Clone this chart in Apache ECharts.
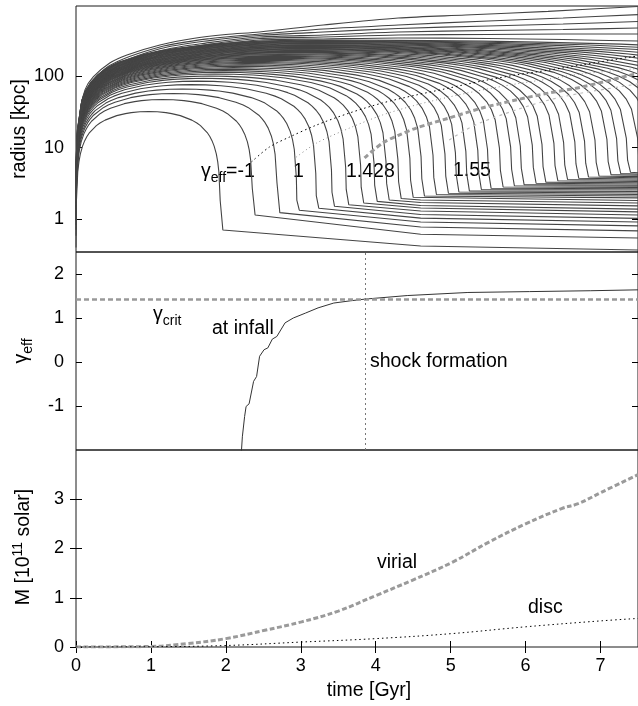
<!DOCTYPE html>
<html>
<head>
<meta charset="utf-8">
<script src="https://cdn.jsdelivr.net/npm/echarts@6/dist/echarts.min.js"></script>
<style>
  html, body { margin: 0; padding: 0; background: #fff; }
  #chart { width: 638px; height: 706px; }
</style>
</head>
<body>
<div id="chart"></div>
<script>
"use strict";

//
// data
//

const T_MAX = 7.5;
const MID_TIME = 4.6;
const GAMMA_CRIT = 1.428;
const SHOCK_TIME = 3.86;

const xTicks = [0, 1, 2, 3, 4, 5, 6, 7];
const radiusTicks = [1, 10, 100];
const gammaTicks = [-1, 0, 1, 2];
const massTicks = [0, 1, 2, 3];

// shape of the innermost shell, as fraction of turnaround time / radius
const riseFrac = [0.0006, 0.002, 0.006, 0.024, 0.04, 0.06, 0.09, 0.12, 0.15, 0.18, 0.28, 0.33, 0.4, 0.56, 0.68, 0.76, 0.88, 1.0];
const riseRadius = [0.0126, 0.0281, 0.0573, 0.143, 0.198, 0.256, 0.329, 0.392, 0.4475, 0.498, 0.635, 0.69, 0.758, 0.876, 0.935, 0.965, 0.991, 1.0];
// after turnaround, as fraction of the time between turnaround and collapse
const fallFrac = [0.12, 0.24, 0.32, 0.44, 0.6, 0.67, 0.72, 0.82, 0.85, 0.88, 0.91, 0.94, 0.96, 0.976, 0.994, 0.998, 1.0];
const fallRadius = [0.991, 0.965, 0.935, 0.876, 0.758, 0.69, 0.635, 0.498, 0.4475, 0.392, 0.329, 0.256, 0.198, 0.143, 0.0573, 0.0281, 0];

// per shell [Gyr], [kpc]
const shellCollapseTime = [1.93, 2.36, 2.69, 2.95, 3.21, 3.42, 3.61, 3.81, 3.99, 4.15, 4.31, 4.47, 4.62, 4.78, 4.94, 5.08,
  5.22, 5.38, 5.51, 5.67, 5.82, 5.95, 6.11, 6.24, 6.40, 6.53, 6.68, 6.81, 6.95, 7.11, 7.24, 7.37,
  7.52, 7.67, 7.82, 7.98, 8.15, 8.35, 8.55, 8.8, 9.1, 9.45, 9.9, 10.5, 11.3, 12.4];
const shellTurnRadius = [32, 47, 57, 66, 76, 85, 93, 100, 107, 113, 119, 125, 131, 137, 143, 149,
  155, 160, 166, 172, 178, 183, 189, 194, 200, 205, 211, 216, 222, 228, 233, 238,
  243, 248, 253, 258, 263, 268, 274, 280, 287, 294, 300, 306, 312, 318];
const shellTurnTime = [0.97, 1.15, 1.3, 1.42, 1.53, 1.62, 1.7, 1.78, 1.85, 1.92, 1.98, 2.04, 2.1, 2.16, 2.22, 2.28,
  2.33, 2.38, 2.43, 2.48, 2.53, 2.58, 2.63, 2.68, 2.73, 2.78, 2.83, 2.88, 2.93, 2.98, 3.0, 3.02,
  3.03, 3.04, 3.05, 3.06, 3.07, 3.08, 3.1, 3.12, 3.14, 3.16, 3.18, 3.2, 3.22, 3.24];
// collapsed shells only
const shellKneeRadius = [0.71, 1.15, 1.24, 1.34, 1.43, 1.52, 1.60, 1.69, 1.78, 1.86, 1.95, 2.03, 2.12, 2.22, 2.31, 2.41,
  2.50, 2.61, 2.71, 2.83, 2.95, 3.05, 3.19, 3.31, 3.46, 3.60, 3.74, 3.89, 4.03, 4.21, 4.36, 4.54];
const shellMidRadius = [0.425, 0.62, 0.78, 0.92, 1.04, 1.17, 1.31, 1.44, 1.56, 1.72, 1.86];
const shellEndRadius = [0.373, 0.55, 0.69, 0.81, 0.92, 1.03, 1.15, 1.27, 1.39, 1.54, 1.69, 1.83, 1.99, 2.12, 2.22, 2.33,
  2.45, 2.57, 2.67, 2.78, 2.89, 2.99, 3.11, 3.24, 3.37, 3.52, 3.66, 3.80, 3.94, 4.12, 4.27, 4.47];

// outermost shells, still expanding
const outerShellA = [[0.01, 4], [0.05, 30], [0.12, 64], [0.23, 97], [0.45, 152], [0.68, 197], [1.12, 271], [1.56, 335],
  [2.0, 380], [2.45, 412], [3.3, 516], [4.3, 646], [5.2, 711], [6.3, 800], [7.5, 935]];
const outerShellB = [[0.01, 4], [0.05, 28], [0.12, 60], [0.45, 140], [1.12, 255], [1.8, 335], [2.45, 386], [3.3, 454],
  [4.3, 516], [5.5, 587], [6.5, 646], [7.5, 721]];
const outerShellC = [[0.01, 4], [0.05, 26], [0.12, 56], [0.45, 128], [1.12, 240], [1.8, 315], [2.45, 368], [3.3, 412],
  [4.3, 461], [5.5, 500], [6.5, 533], [7.5, 576]];
const outerShellD = [[0.01, 4], [0.05, 24], [0.12, 52], [0.45, 118], [1.12, 225], [1.8, 295], [2.45, 351], [3.3, 374],
  [4.3, 412], [5.5, 433], [6.5, 447], [7.5, 469]];
const outerShellE = [[0.01, 4], [0.05, 22], [0.12, 48], [0.45, 108], [1.12, 210], [1.8, 280], [2.45, 334], [3.3, 351],
  [4.3, 374], [5.5, 380], [6.5, 386], [7.5, 386]];
const outerShellF = [[0.01, 4], [0.05, 20], [0.12, 44], [0.45, 100], [1.12, 195], [1.8, 265], [2.45, 318], [3.3, 329],
  [4.3, 340], [5.5, 334], [6.5, 323], [7.5, 308]];

// where each shell reaches a given gamma_eff
const locusMinus1 = [[2.34, 6.3], [2.58, 10.2], [2.85, 14.1], [3.21, 20.7], [3.65, 30.5], [4.09, 42.1], [4.54, 54.4],
  [4.98, 68.1], [5.42, 85.3], [5.87, 103.5], [6.31, 121], [6.75, 143], [7.41, 185], [7.5, 190]];
const locusOne = [[2.94, 7.4], [3.21, 11.6], [3.65, 18.8], [4.09, 28.6], [4.54, 39.5], [4.98, 51], [5.42, 63.9],
  [5.87, 77.5], [6.31, 91], [6.75, 107], [7.41, 125], [7.5, 128]];
const locusCrit = [[3.85, 7.2], [4.09, 11.6], [4.31, 15.0], [4.54, 18.8], [4.98, 26.0], [5.42, 35.8], [5.87, 46.3],
  [6.31, 58.0], [6.75, 70.3], [7.41, 103.5], [7.5, 108]];
const locus155 = [[4.98, 12.8], [5.20, 17.7], [5.42, 22.8], [5.87, 33.6], [6.31, 46.3], [6.75, 58.0], [7.41, 75], [7.5, 78]];

const gammaInfall = [[2.205, -2.1], [2.22, -1.7], [2.25, -1.24], [2.27, -1.01], [2.31, -0.95], [2.37, -0.44], [2.41, -0.33],
  [2.45, 0.13], [2.51, 0.28], [2.56, 0.32], [2.62, 0.52], [2.68, 0.58], [2.79, 0.89], [2.9, 1.0], [3.06, 1.11],
  [3.23, 1.23], [3.44, 1.34], [3.66, 1.39], [3.86, 1.43], [4.42, 1.51], [5.23, 1.58], [6.05, 1.6], [6.87, 1.62], [7.5, 1.64]];

const virialMass = [[0, 0], [1.0, 0.01], [1.49, 0.07], [2.0, 0.17], [2.52, 0.34], [3.01, 0.51], [3.5, 0.73], [4.01, 1.05],
  [4.48, 1.35], [5.02, 1.72], [5.51, 2.13], [6.0, 2.5], [6.48, 2.81], [6.7, 2.91], [7.01, 3.14], [7.5, 3.5]];
const discMass = [[0, 0], [1.0, 0.005], [2.0, 0.03], [3.0, 0.1], [4.0, 0.17], [5.0, 0.27], [6.0, 0.41], [7.0, 0.53], [7.5, 0.58]];

//
// helpers
//

const FONT = "'Liberation Sans', Arial, Helvetica, sans-serif";
const TEXT_SIZE = 19.5;
const TICK_SIZE = 18;
const SHELL_COLOR = "#444";

function shell_points(i) {
  const tta = shellTurnTime[i];
  const tc = shellCollapseTime[i];
  const rta = shellTurnRadius[i];
  const collapsed = i < shellKneeRadius.length;
  const pts = [];
  for (let k = 0; k < riseFrac.length; k++) {
    pts.push([riseFrac[k] * tta, riseRadius[k] * rta]);
  }
  for (let k = 0; k < fallFrac.length; k++) {
    const t = tta + fallFrac[k] * (tc - tta);
    const r = fallRadius[k] * rta;
    if (r <= 0) break;
    if (collapsed && r < shellKneeRadius[i] * 1.3) break;
    pts.push([t, r]);
    if (t > T_MAX) break;
  }
  if (collapsed) {
    pts.push([tc + 0.03, shellKneeRadius[i]]);
    if (i < shellMidRadius.length) pts.push([MID_TIME, shellMidRadius[i]]);
    pts.push([T_MAX, shellEndRadius[i]]);
  }
  return pts;
}

function line_series(data, grid, color, width, type, z, smooth) {
  return {
    type: "line",
    xAxisIndex: grid,
    yAxisIndex: grid * 2,
    data: data,
    showSymbol: false,
    silent: true,
    clip: true,
    smooth: smooth || false,
    z: z || 2,
    lineStyle: { color: color, width: width, type: type || "solid" },
  };
}

function x_axis(grid, opts) {
  return Object.assign({
    gridIndex: grid, type: "value", min: 0, max: T_MAX,
    axisLine: { show: false },
    axisTick: { show: false },
    axisLabel: { show: false },
    splitLine: { show: false },
  }, opts || {});
}

function y_axes(grid, type, min, max, ticks) {
  const common = {
    gridIndex: grid, type: type, min: min, max: max,
    axisLine: { show: false },
    splitLine: { show: false },
    axisTick: { show: true, inside: true, length: 6, customValues: ticks, lineStyle: { color: "#000" } },
  };
  return [
    Object.assign({}, common, {
      position: "left",
      axisLabel: { customValues: ticks, margin: 12, color: "#000", fontSize: TICK_SIZE, fontFamily: FONT },
    }),
    Object.assign({}, common, { position: "right", axisLabel: { show: false } }),
  ];
}

function text(x, y, str, align, rotation) {
  return {
    type: "text", x: x, y: y, rotation: rotation || 0, silent: true,
    style: { text: str, fill: "#000", fontSize: TEXT_SIZE, fontFamily: FONT, align: align || "left", verticalAlign: "middle" },
  };
}

function rich_text(x, y, str, align, rotation) {
  return {
    type: "text", x: x, y: y, rotation: rotation || 0, silent: true,
    style: {
      text: str, fill: "#000", fontFamily: FONT, fontSize: TEXT_SIZE, align: align, verticalAlign: "middle",
      rich: {
        m: { fontSize: TEXT_SIZE, lineHeight: 26, fontFamily: FONT, fill: "#000" },
        s: { fontSize: 14, lineHeight: 13, verticalAlign: "bottom", fontFamily: FONT, fill: "#000" },
        p: { fontSize: 14, lineHeight: 13, verticalAlign: "top", fontFamily: FONT, fill: "#000" },
      },
    },
  };
}

//
// chart
//

const series = [];
for (let i = 0; i < shellCollapseTime.length; i++) {
  series.push(line_series(shell_points(i), 0, SHELL_COLOR, 1.1));
}
[outerShellA, outerShellB, outerShellC, outerShellD, outerShellE, outerShellF].forEach(function (d) {
  series.push(line_series(d, 0, SHELL_COLOR, 1.1, "solid", 2, 0.3));
});
series.push(line_series(locusMinus1, 0, "#000", 1, [1.5, 3], 5, 0.3));
series.push(line_series(locusOne, 0, "#8a8a8a", 1, [1, 3], 5, 0.3));
series.push(line_series(locusCrit, 0, "#9a9a9a", 3, [5, 3], 5, 0.3));
series.push(line_series(locus155, 0, "#bdbdbd", 1.2, [3, 4], 5, 0.3));

const gammaSeries = line_series(gammaInfall, 1, "#333", 1);
gammaSeries.markLine = {
  symbol: "none",
  silent: true,
  animation: false,
  label: { show: false },
  data: [
    { yAxis: GAMMA_CRIT, lineStyle: { color: "#999", width: 2.5, type: [5, 3] } },
    { xAxis: SHOCK_TIME, lineStyle: { color: "#777", width: 1, type: [2, 3] } },
  ],
};
series.push(gammaSeries);

series.push(line_series(virialMass, 2, "#9a9a9a", 3, [5, 2.5], 5, 0.4));
series.push(line_series(discMass, 2, "#000", 1, [1.5, 3], 5, 0.4));

const gridCommon = { left: 76, width: 563, show: true, borderColor: "#1a1a1a", borderWidth: 1, backgroundColor: "transparent" };

const option = {
  animation: false,
  grid: [
    Object.assign({ top: 6, height: 246 }, gridCommon),
    Object.assign({ top: 252, height: 198 }, gridCommon),
    Object.assign({ top: 450, height: 197 }, gridCommon),
  ],
  xAxis: [
    x_axis(0),
    x_axis(1),
    x_axis(2, {
      axisTick: { show: true, inside: true, length: 6, customValues: xTicks, lineStyle: { color: "#000" } },
      axisLabel: { customValues: xTicks, margin: 10, color: "#000", fontSize: TICK_SIZE, fontFamily: FONT },
    }),
    x_axis(2, {
      position: "top",
      axisTick: { show: true, inside: true, length: 6, customValues: xTicks, lineStyle: { color: "#000" } },
    }),
  ],
  yAxis: [].concat(
    y_axes(0, "log", 0.35, 950, radiusTicks),
    y_axes(1, "value", -2, 2.5, gammaTicks),
    y_axes(2, "value", 0, 4, massTicks)
  ),
  graphic: {
    elements: [
      // axis titles
      text(20, 129, "radius [kpc]", "center", Math.PI / 2),
      rich_text(22, 351, "{m|γ}{s|eff}", "center", Math.PI / 2),
      rich_text(24, 547, "{m|M [10}{p|11}{m| solar]}", "center", Math.PI / 2),
      text(369, 691, "time [Gyr]", "center"),
      // top panel
      rich_text(201, 172, "{m|γ}{s|eff}{m|=-1}", "left"),
      text(293, 172, "1"),
      text(346, 172, "1.428"),
      text(453, 171, "1.55"),
      // middle panel
      rich_text(153, 315, "{m|γ}{s|crit}", "left"),
      text(212, 329, "at infall"),
      text(370, 362, "shock formation"),
      // bottom panel
      text(377, 563, "virial"),
      text(528, 608, "disc"),
    ],
  },
  series: series,
};

const chart = echarts.init(document.getElementById("chart"), null, { renderer: "canvas" });
chart.setOption(option);
</script>
</body>
</html>
